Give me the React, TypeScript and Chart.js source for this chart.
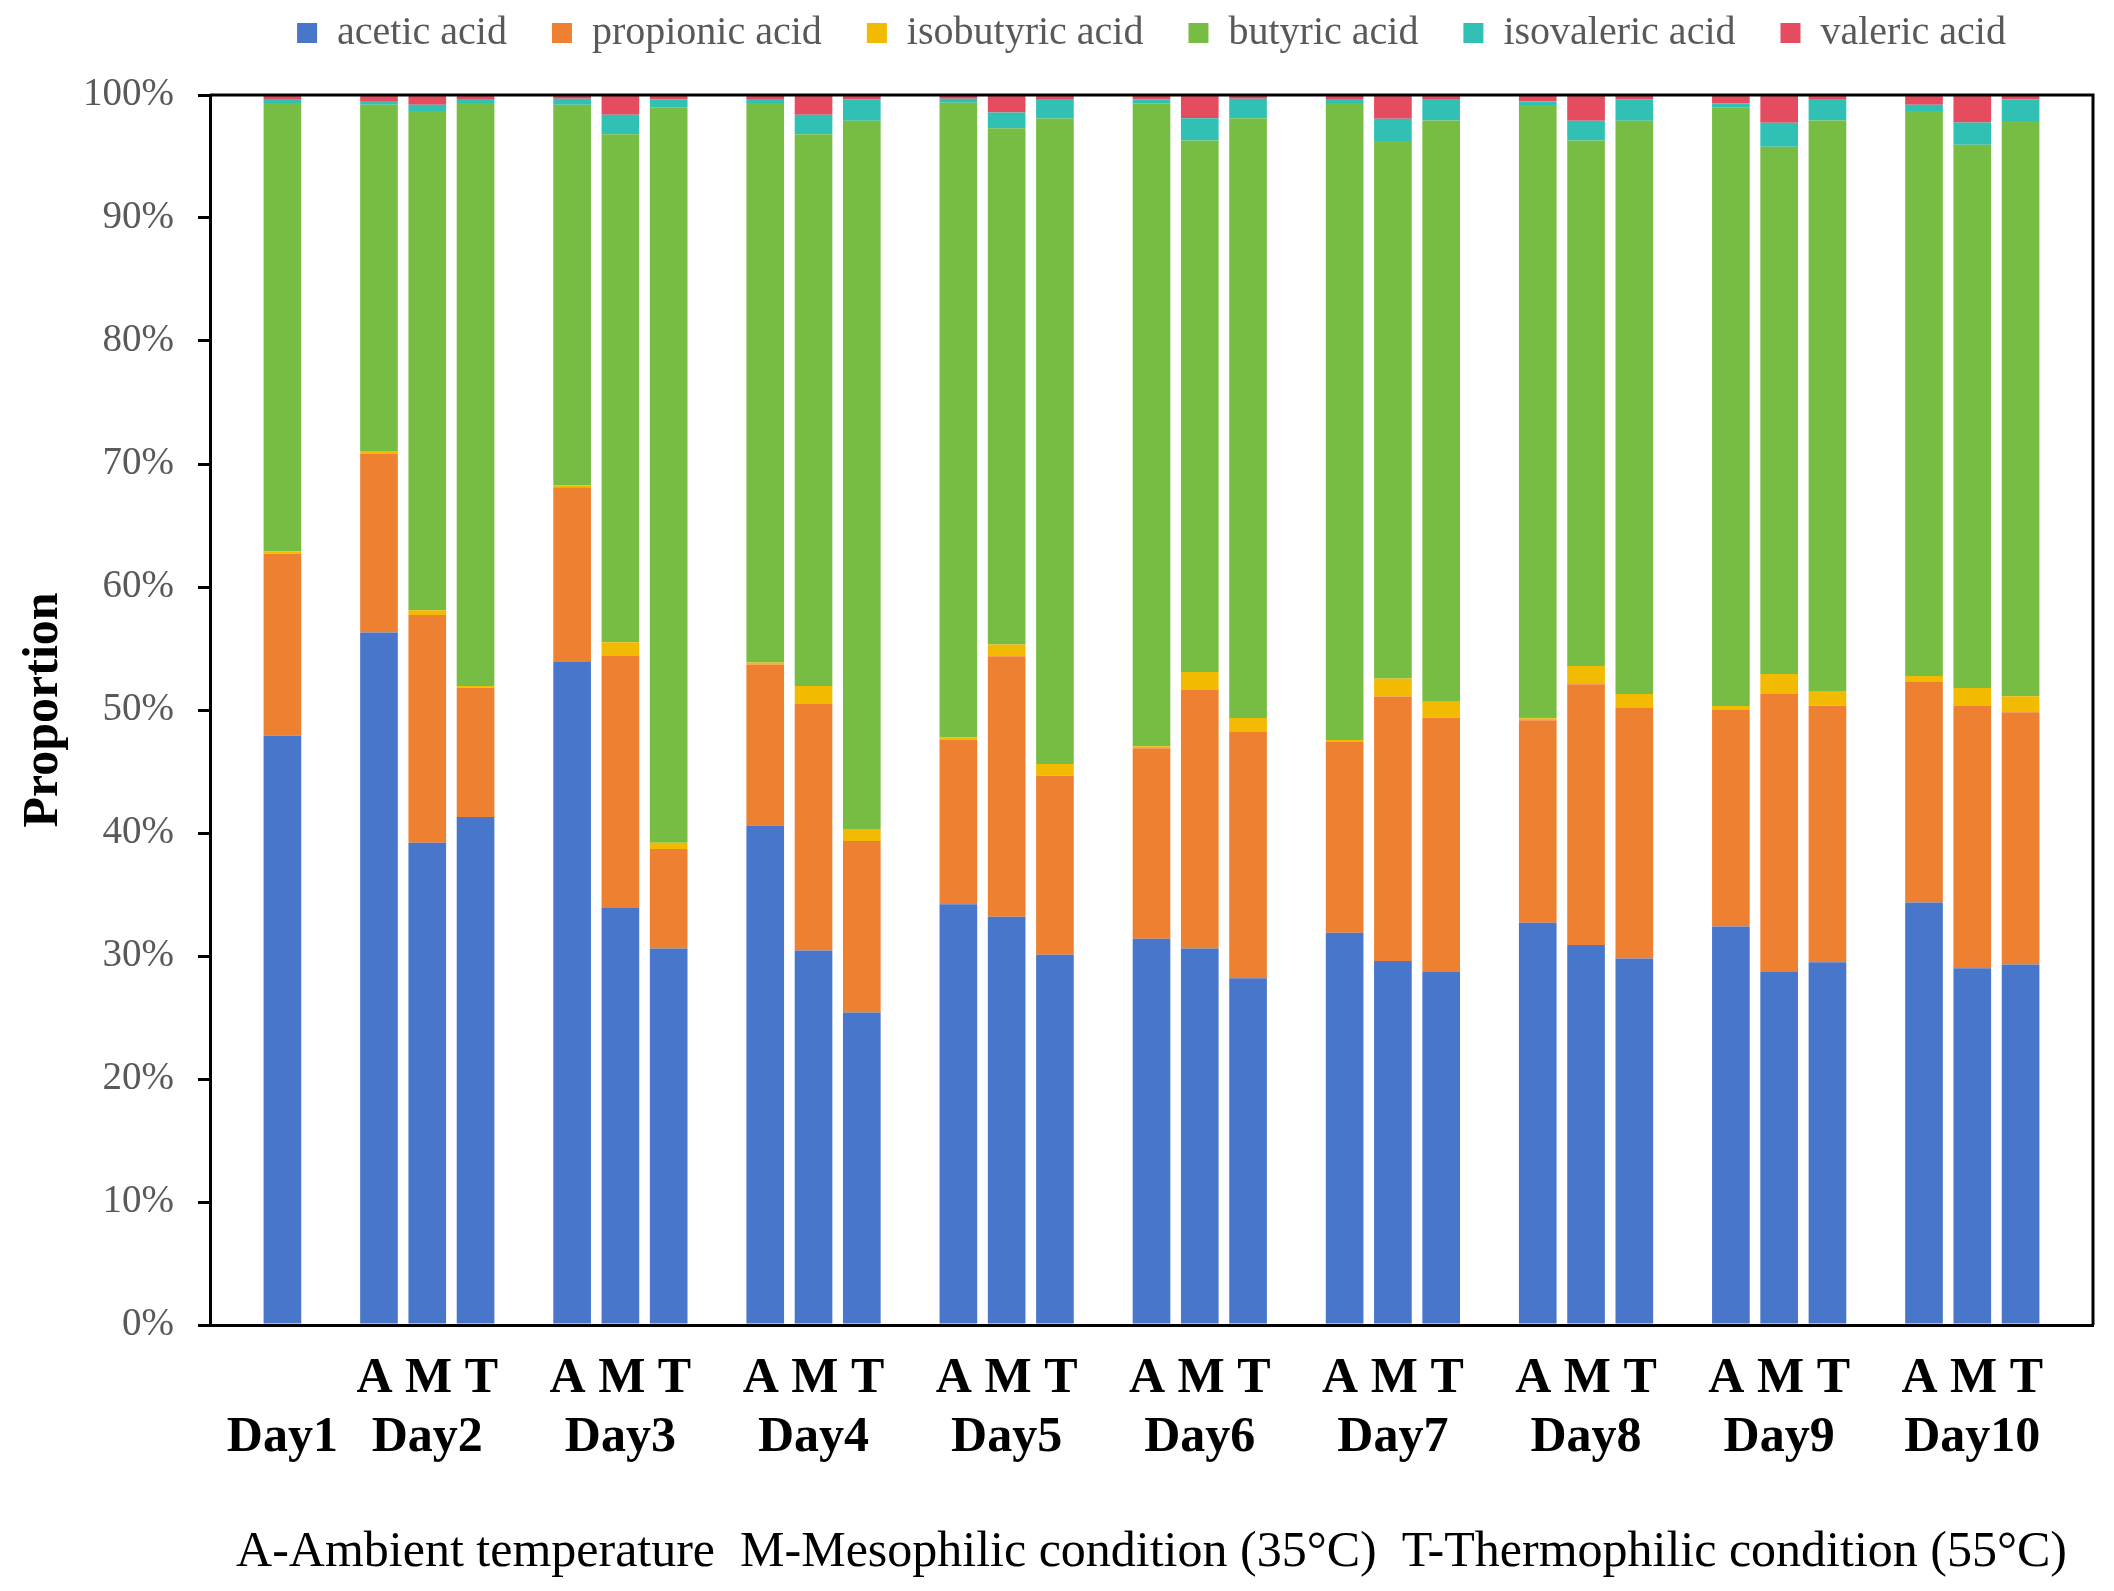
import React, { useEffect, useRef } from 'react';
import { Chart, registerables } from 'chart.js';

Chart.register(...registerables);

const days = ['Day1', 'Day2', 'Day3', 'Day4', 'Day5', 'Day6', 'Day7', 'Day8', 'Day9', 'Day10'];
const groupLabel = 'A M T';
const footer = 'A-Ambient temperature  M-Mesophilic condition (35°C)  T-Thermophilic condition (55°C)';

// Day1, then A, M, T for Day2..Day10 (percent)
const acetic = [47.9, 56.3, 39.2, 41.3, 53.9, 33.9, 30.6, 40.6, 30.45, 25.4, 34.2, 33.2, 30.1, 31.4, 30.6, 28.2, 31.9, 29.6, 28.7, 32.7, 30.9, 29.8, 32.4, 28.7, 29.5, 34.35, 29.0, 29.3];
const propionic = [14.8, 14.55, 18.53, 10.5, 14.2, 20.5, 8.1, 13.1, 20.04, 13.95, 13.4, 21.18, 14.55, 15.5, 21.02, 20.02, 15.5, 21.5, 20.68, 16.47, 21.2, 20.36, 17.6, 22.6, 20.84, 17.92, 21.33, 20.52];
const isobutyric = [0.2, 0.2, 0.37, 0.15, 0.15, 1.1, 0.5, 0.17, 1.46, 0.97, 0.16, 0.95, 0.95, 0.16, 1.46, 1.13, 0.17, 1.46, 1.3, 0.16, 1.47, 1.14, 0.32, 1.62, 1.14, 0.49, 1.46, 1.3];
const butyric = [36.45, 28.15, 40.6, 47.4, 30.95, 41.3, 59.8, 45.48, 44.85, 57.58, 51.62, 41.97, 52.48, 52.27, 43.22, 48.75, 51.78, 43.7, 47.25, 49.85, 42.73, 46.6, 48.68, 42.88, 46.44, 45.94, 44.17, 46.76];
const isovaleric = [0.32, 0.32, 0.5, 0.32, 0.5, 1.6, 0.65, 0.32, 1.6, 1.75, 0.32, 1.27, 1.6, 0.32, 1.8, 1.6, 0.32, 1.8, 1.75, 0.3, 1.6, 1.75, 0.32, 1.95, 1.75, 0.5, 1.8, 1.75];
const valeric = [0.33, 0.5, 0.8, 0.33, 0.3, 1.6, 0.35, 0.33, 1.6, 0.35, 0.33, 1.45, 0.3, 0.33, 1.9, 0.3, 0.33, 1.9, 0.35, 0.5, 2.1, 0.35, 0.65, 2.25, 0.35, 0.8, 2.25, 0.35];

const seriesNames = ['acetic acid', 'propionic acid', 'isobutyric acid', 'butyric acid', 'isovaleric acid', 'valeric acid'];
const seriesColors = ['#4876CA', '#EE8131', '#F2BA00', '#77BD43', '#30C1B4', '#E64C5F'];

const FONT = "'Liberation Serif', 'Times New Roman', serif";

// slots: gap, Day1, gap, then A M T + gap for every later day
function toSlots(values: number[]) {
  const out: (number | null)[] = [null, values[0], null];
  for (let d = 0; d < days.length - 1; d++) {
    out.push(values[1 + d * 3], values[2 + d * 3], values[3 + d * 3], null);
  }
  return out;
}

const slotLabels: (string | string[])[] = ['', ['', days[0]], ''];
for (let d = 1; d < days.length; d++) slotLabels.push('', [groupLabel, days[d]], '', '');

// box line along the top and right of the plot
const framePlugin = {
  id: 'frame',
  afterDatasetsDraw(chart: any) {
    const { ctx, chartArea } = chart;
    ctx.save();
    ctx.strokeStyle = '#000';
    ctx.lineWidth = 3;
    ctx.beginPath();
    ctx.moveTo(chartArea.left, chartArea.top);
    ctx.lineTo(chartArea.right, chartArea.top);
    ctx.lineTo(chartArea.right, chartArea.bottom);
    ctx.stroke();
    ctx.restore();
  },
};

// legend padding also spaces the items; pull the row back up to the top edge
const legendLift = {
  id: 'legendLift',
  afterLayout(chart: any) {
    const lg = chart.legend;
    if (!lg) return;
    lg.top -= 32;
    lg.bottom -= 32;
  },
};

const App: React.FC = () => {
  const chartRef = useRef<HTMLCanvasElement>(null);
  const chartInstance = useRef<Chart | null>(null);

  useEffect(() => {
    document.body.style.margin = '0';
    document.body.style.overflow = 'hidden';
    if (!chartRef.current) return;
    if (chartInstance.current) chartInstance.current.destroy();
    const ctx = chartRef.current.getContext('2d');
    if (!ctx) return;

    const allSeries = [acetic, propionic, isobutyric, butyric, isovaleric, valeric];

    chartInstance.current = new Chart(ctx, {
      type: 'bar',
      data: {
        labels: slotLabels,
        datasets: allSeries.map((s, i) => ({
          label: seriesNames[i],
          data: toSlots(s),
          backgroundColor: seriesColors[i],
          borderWidth: 0,
          barPercentage: 0.78,
          categoryPercentage: 1,
        })),
      },
      options: {
        responsive: false,
        animation: false,
        layout: { padding: { top: 0, right: 21, bottom: 0, left: 0 } },
        plugins: {
          tooltip: { enabled: false },
          legend: {
            position: 'top',
            fullSize: false,
            labels: {
              boxWidth: 20,
              boxHeight: 20,
              padding: 45,
              color: '#595959',
              font: { family: FONT, size: 40 },
            },
          },
        },
        scales: {
          x: {
            stacked: true,
            grid: { display: false, drawTicks: false },
            border: { display: true, color: '#000', width: 3 },
            ticks: {
              autoSkip: false,
              maxRotation: 0,
              minRotation: 0,
              padding: 25,
              color: '#000',
              font: { family: FONT, size: 50, weight: 'bold', lineHeight: 1.17 },
            },
            title: {
              display: true,
              text: footer,
              color: '#000',
              font: { family: FONT, size: 50, lineHeight: 1.2 },
              padding: { top: 0, bottom: 8 },
            },
            afterFit: (s: any) => { s.height = 266; },
          },
          y: {
            stacked: true,
            min: 0,
            max: 100,
            ticks: {
              stepSize: 10,
              padding: 24,
              color: '#595959',
              font: { family: FONT, size: 39 },
              callback: (v: any) => v + '%',
            },
            grid: { drawOnChartArea: false, drawTicks: true, tickLength: 12, color: '#000', lineWidth: 3 },
            border: { display: true, color: '#000', width: 3 },
            title: {
              display: true,
              text: 'Proportion',
              color: '#000',
              font: { family: FONT, size: 50, weight: 'bold', lineHeight: 1 },
              padding: { top: 19, bottom: 0 },
            },
            afterFit: (s: any) => { s.width = 210; },
          },
        },
      },
      plugins: [framePlugin, legendLift],
    });

    return () => {
      if (chartInstance.current) {
        chartInstance.current.destroy();
        chartInstance.current = null;
      }
    };
  }, []);

  return (
    <div style={{ width: 2114, height: 1591 }}>
      <canvas ref={chartRef} width={2114} height={1591}></canvas>
    </div>
  );
};

export default App;
